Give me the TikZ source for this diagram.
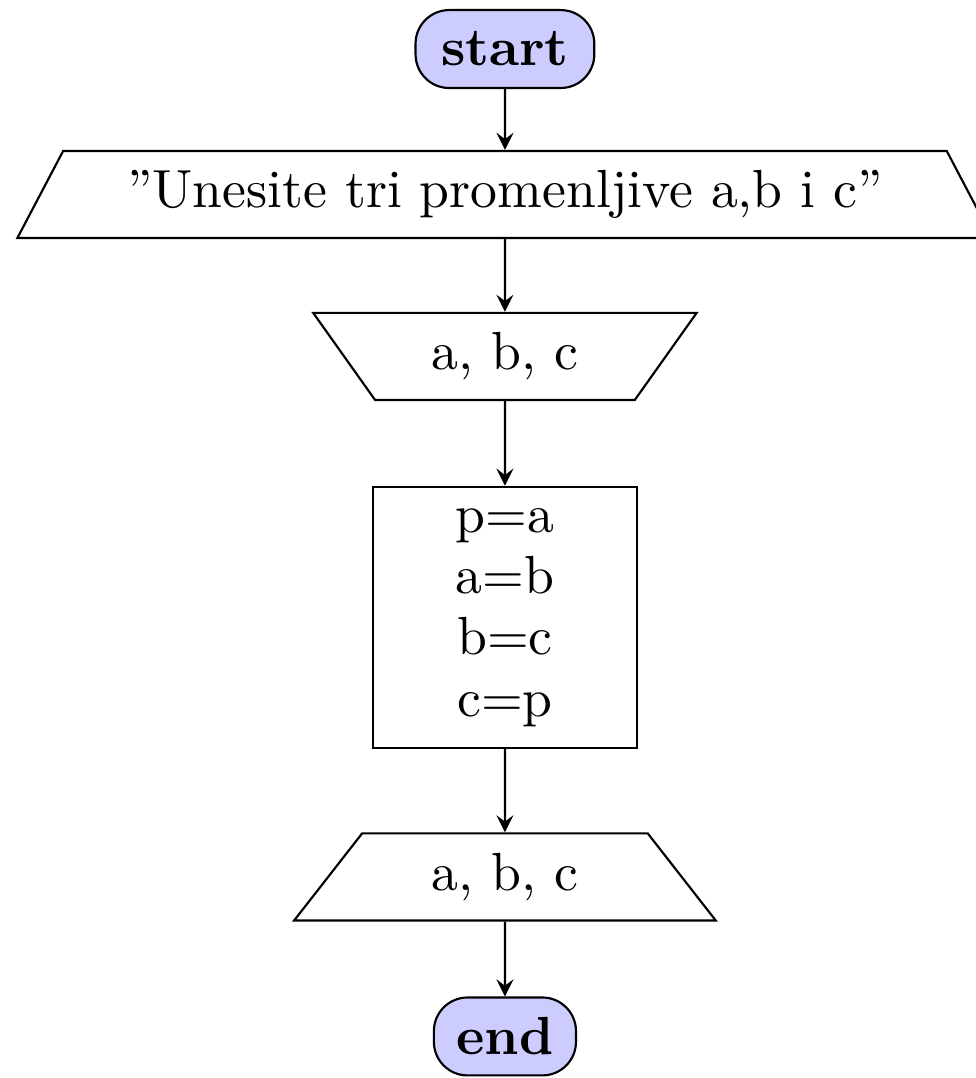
\documentclass[tikz,border=0pt]{standalone}
\usetikzlibrary{shapes.geometric, arrows, positioning}

\begin{document}
\begin{tikzpicture}[
		term/.style={draw, fill=blue!20, rounded corners=2.2mm, minimum width=1.17cm, minimum height=0.51cm, font=\bfseries},
		io/.style={draw, trapezium, trapezium stretches=true, trapezium left angle=60, trapezium right angle=60, minimum height=0.57cm, inner sep=2pt},
		ioup/.style={io, trapezium left angle=120, trapezium right angle=120},
		proc/.style={draw, rectangle, minimum width=1.73cm, minimum height=1.71cm, align=center, inner ysep=1pt},
		flowarrow/.style={-stealth, thin}
		]
		
		% ==========================================
		% 1. PAGE FRAME (cuts the wide box on the right)
		% ==========================================
		\useasboundingbox (-3.305,0) rectangle (3.083,-7.056);
		
		% ==========================================
		% 2. THE FLOWCHART BLOCKS
		% ==========================================
		\node[term] (start) at (0,-0.321) {start};
		\node[io, minimum width=6.39cm] (msg) at (0,-1.273) {''Unesite tri promenljive a,b i c''};
		\node[ioup, minimum width=2.51cm] (read) at (0,-2.333) {a, b, c};
		\node[proc] (swap) at (0,-4.041) {p=a\\[-0.6pt] a=b\\[-0.6pt] b=c\\[-0.6pt] c=p};
		\node[io, minimum width=2.76cm] (write) at (0,-5.740) {a, b, c};
		\node[term, minimum width=0.93cm] (end) at (0,-6.784) {end};
		
		% ==========================================
		% 3. CONNECTORS
		% ==========================================
		\foreach \from/\to in {start/msg, msg/read, read/swap, swap/write, write/end} {
			\draw[flowarrow] (\from) -- (\to);
		}
		
	\end{tikzpicture}
\end{document}
